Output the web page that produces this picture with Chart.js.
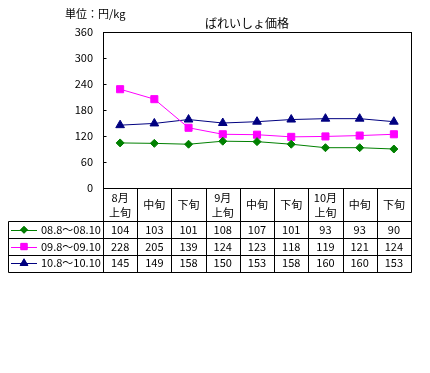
<!DOCTYPE html>
<html>
<head>
<meta charset="utf-8">
<script src="https://cdn.jsdelivr.net/npm/chart.js@4"></script>
<style>
  body { margin: 0; background: #fff; }
  canvas { display: block; }
</style>
</head>
<body>
<canvas id="myChart" width="430" height="373"></canvas>
<script>
// data
var categories = [['8月', '上旬'], ['中旬'], ['下旬'], ['9月', '上旬'], ['中旬'], ['下旬'], ['10月', '上旬'], ['中旬'], ['下旬']];
var seriesNames = ['08.8～08.10', '09.8～09.10', '10.8～10.10'];
var price08 = [104, 103, 101, 108, 107, 101, 93, 93, 90];
var price09 = [228, 205, 139, 124, 123, 118, 119, 121, 124];
var price10 = [145, 149, 158, 150, 153, 158, 160, 160, 153];
var yTicks = [0, 60, 120, 180, 240, 300, 360];

var FONT = '"Noto Sans CJK JP", "Noto Sans", sans-serif';

var colors = ['#008000', '#FF00FF', '#000080'];
var shapes = ['rectRot', 'rect', 'triangle'];
var radii = [4, 5, 5];
var allData = [price08, price09, price10];

// table rows under the plot
var tablePlugin = {
  id: 'dataTable',
  afterDraw: function (chart) {
    var ctx = chart.ctx;
    var area = chart.chartArea;
    var xs = chart.scales.x;
    var ys = chart.scales.y;
    var left = 8.5;
    var right = Math.round(area.right) + 0.5;
    var top = Math.round(area.bottom) + 0.5;
    var catBottom = top + 33;
    var rowH = 16.7;
    var bottom = catBottom + rowH * 3;
    var colW = (area.right - area.left) / categories.length;

    ctx.save();
    ctx.strokeStyle = '#000';
    ctx.lineWidth = 1;

    // plot border
    var ax = Math.round(area.left) + 0.5;
    ctx.strokeRect(ax, Math.round(area.top) + 0.5,
      Math.round(area.right - area.left), Math.round(area.bottom - area.top));

    ctx.beginPath();
    // inner tick marks on value axis
    yTicks.forEach(function (v) {
      var ty = Math.round(ys.getPixelForValue(v)) + 0.5;
      ctx.moveTo(ax, ty); ctx.lineTo(ax + 3, ty);
    });
    // category row
    ctx.moveTo(area.left, top); ctx.lineTo(right, top);
    ctx.moveTo(left, catBottom); ctx.lineTo(right, catBottom);
    for (var r = 1; r <= 3; r++) {
      var yy = Math.round(catBottom + rowH * r) + 0.5;
      ctx.moveTo(left, yy); ctx.lineTo(right, yy);
    }
    ctx.moveTo(left, catBottom); ctx.lineTo(left, Math.round(bottom) + 0.5);
    for (var c = 0; c <= categories.length; c++) {
      var xx = Math.round(area.left + colW * c) + 0.5;
      ctx.moveTo(xx, top); ctx.lineTo(xx, Math.round(bottom) + 0.5);
    }
    ctx.stroke();

    ctx.fillStyle = '#000';
    ctx.font = '11px ' + FONT;
    ctx.textAlign = 'center';
    ctx.textBaseline = 'middle';

    // category labels
    categories.forEach(function (lab, i) {
      var cx = xs.getPixelForValue(i);
      if (lab.length === 2) {
        ctx.fillText(lab[0], cx, top + 9);
        ctx.fillText(lab[1], cx, top + 24);
      } else {
        ctx.fillText(lab[0], cx, top + 16.5);
      }
    });

    // values and legend keys
    for (var s = 0; s < 3; s++) {
      var cy = catBottom + rowH * s + rowH / 2;
      ctx.textAlign = 'center';
      allData[s].forEach(function (v, i) {
        ctx.fillText(String(v), xs.getPixelForValue(i), cy);
      });
      ctx.strokeStyle = colors[s];
      ctx.beginPath();
      ctx.moveTo(11, Math.round(cy) + 0.5);
      ctx.lineTo(37, Math.round(cy) + 0.5);
      ctx.stroke();
      Chart.helpers.drawPoint(ctx, {
        pointStyle: shapes[s], radius: radii[s] - 0.5, borderWidth: 1
      }, 24, cy);
      ctx.fillStyle = colors[s];
      ctx.fill();
      ctx.fillStyle = '#000';
      ctx.textAlign = 'left';
      ctx.fillText(seriesNames[s], 41, cy);
    }

    // unit label and title
    ctx.textAlign = 'left';
    ctx.fillText('単位：円/kg', 65, 14);
    ctx.textAlign = 'center';
    ctx.font = '12px ' + FONT;
    ctx.fillText('ばれいしょ価格', 247, 23);
    ctx.restore();
  }
};

new Chart('myChart', {
  type: 'line',
  data: {
    labels: categories.map(function (c) { return c.join(''); }),
    datasets: allData.map(function (d, i) {
      return {
        label: seriesNames[i],
        data: d,
        borderColor: colors[i],
        backgroundColor: colors[i],
        borderWidth: 1,
        pointStyle: shapes[i],
        pointRadius: radii[i],
        pointBorderWidth: 1,
        tension: 0,
        fill: false
      };
    })
  },
  options: {
    responsive: false,
    animation: false,
    layout: { padding: { left: 60, right: 19, top: 32, bottom: 185 } },
    plugins: {
      legend: { display: false },
      tooltip: { enabled: false }
    },
    scales: {
      x: { display: false, offset: true },
      y: {
        min: 0,
        max: 360,
        afterBuildTicks: function (axis) {
          axis.ticks = yTicks.map(function (v) { return { value: v }; });
        },
        afterFit: function (axis) { axis.width = 43; },
        border: { display: true, color: '#000' },
        grid: { drawOnChartArea: false, drawTicks: false },
        ticks: { color: '#000', font: { family: FONT, size: 11 }, padding: 10 }
      }
    }
  },
  plugins: [tablePlugin]
});
</script>
</body>
</html>
